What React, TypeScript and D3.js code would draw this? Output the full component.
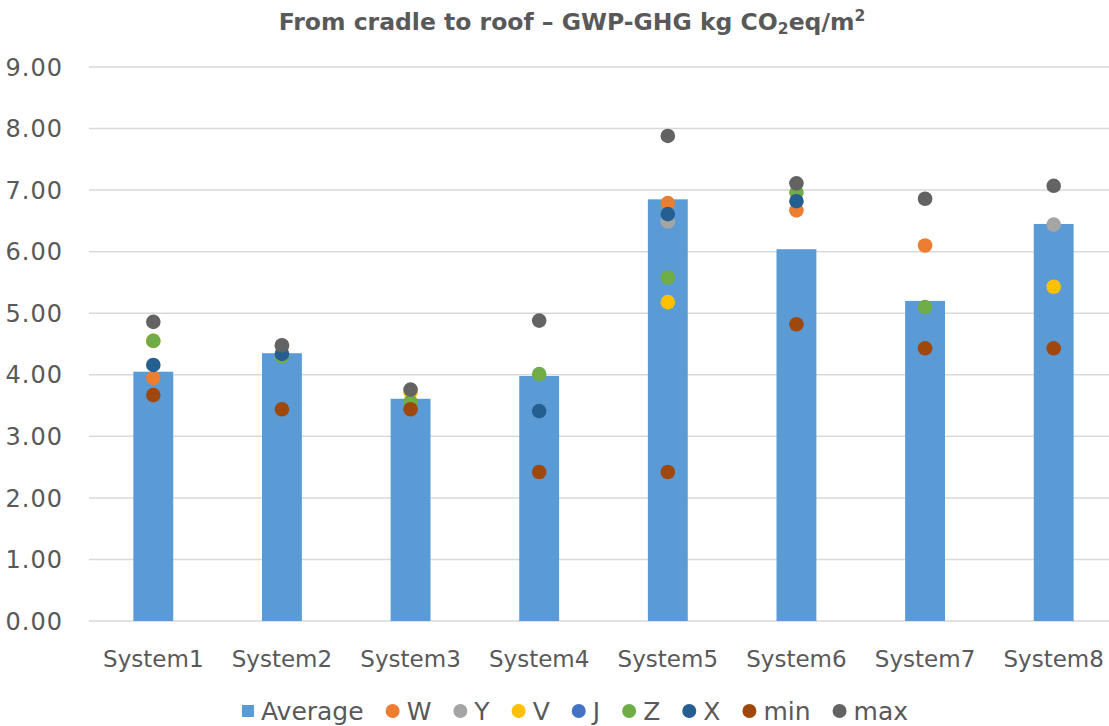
import { useEffect, useRef } from "react";
import * as d3 from "d3";

// categories and series
const systems = ["System1", "System2", "System3", "System4", "System5", "System6", "System7", "System8"];
const average = [4.05, 4.35, 3.61, 3.98, 6.85, 6.04, 5.2, 6.45];
const seriesW = [3.95, 4.47, null, null, 6.79, 6.67, 6.1, null];
const seriesY = [null, null, null, null, 6.49, null, null, 6.44];
const seriesV = [4.55, null, 3.72, null, 5.18, null, null, 5.43];
const seriesJ = [null, null, null, null, null, null, null, null];
const seriesZ = [4.55, 4.3, 3.56, 4.01, 5.58, 6.96, 5.1, null];
const seriesX = [4.16, 4.34, null, 3.41, 6.61, 6.82, null, null];
const seriesMin = [3.67, 3.44, 3.44, 2.42, 2.42, 4.82, 4.43, 4.43];
const seriesMax = [4.86, 4.48, 3.76, 4.88, 7.88, 7.11, 6.86, 7.07];
const yTicks = [0, 1, 2, 3, 4, 5, 6, 7, 8, 9];

const dotSeries = [
  { name: "W", values: seriesW, color: "#ED7D31" },
  { name: "Y", values: seriesY, color: "#A5A5A5" },
  { name: "V", values: seriesV, color: "#FFC000" },
  { name: "J", values: seriesJ, color: "#4472C4" },
  { name: "Z", values: seriesZ, color: "#70AD47" },
  { name: "X", values: seriesX, color: "#255E91" },
  { name: "min", values: seriesMin, color: "#9E480E" },
  { name: "max", values: seriesMax, color: "#636363" },
];

const W = 1109;
const H = 726;
const FONT = "'DejaVu Sans', sans-serif";
const TEXT = "#595959";

export default function App() {
  const ref = useRef<SVGSVGElement>(null);

  useEffect(() => {
    if (!ref.current) return;
    const svg = d3.select(ref.current);
    svg.selectAll("*").remove();

    const x = d3.scaleBand<string>()
      .domain(systems)
      .range([89, 1118])
      .paddingInner(0.69)
      .paddingOuter(0.345);
    const y = d3.scaleLinear().domain([0, 9]).range([621, 67]);

    // title
    const title = svg.append("text")
      .attr("x", 572)
      .attr("y", 30)
      .attr("text-anchor", "middle")
      .attr("font-family", FONT)
      .attr("font-weight", "bold")
      .attr("font-size", 23.5)
      .attr("fill", TEXT);
    title.append("tspan").text("From cradle to roof – GWP-GHG kg CO");
    title.append("tspan").attr("font-size", 15.5).attr("dy", 4).text("2");
    title.append("tspan").attr("dy", -4).text("eq/m");
    title.append("tspan").attr("font-size", 15.5).attr("dy", -9).text("2");

    // grid
    svg.append("g")
      .selectAll("line")
      .data(yTicks)
      .join("line")
      .attr("x1", 89)
      .attr("x2", W)
      .attr("y1", (d) => y(d))
      .attr("y2", (d) => y(d))
      .attr("stroke", "#D9D9D9")
      .attr("stroke-width", 1.5);

    svg.append("g")
      .selectAll("text")
      .data(yTicks)
      .join("text")
      .attr("x", 63)
      .attr("y", (d) => y(d))
      .attr("dy", "0.36em")
      .attr("text-anchor", "end")
      .attr("font-family", FONT)
      .attr("font-size", 24)
      .attr("letter-spacing", 1)
      .attr("fill", TEXT)
      .text((d) => d3.format(".2f")(d));

    // bars
    svg.append("g")
      .selectAll("rect")
      .data(average)
      .join("rect")
      .attr("x", (_, i) => x(systems[i])!)
      .attr("y", (d) => y(d))
      .attr("width", x.bandwidth())
      .attr("height", (d) => y(0) - y(d))
      .attr("fill", "#5B9BD5");

    // category labels
    svg.append("g")
      .selectAll("text")
      .data(systems)
      .join("text")
      .attr("x", (d) => x(d)! + x.bandwidth() / 2)
      .attr("y", 667)
      .attr("text-anchor", "middle")
      .attr("font-family", FONT)
      .attr("font-size", 23)
      .attr("fill", TEXT)
      .text((d) => d);

    // dots
    dotSeries.forEach((s) => {
      svg.append("g")
        .selectAll("circle")
        .data(s.values.map((v, i) => ({ v, cat: systems[i] })).filter((d) => d.v != null))
        .join("circle")
        .attr("cx", (d) => x(d.cat)! + x.bandwidth() / 2)
        .attr("cy", (d) => y(d.v as number))
        .attr("r", 7.3)
        .attr("fill", s.color);
    });

    // legend
    const legend = svg.append("g").attr("font-family", FONT).attr("font-size", 25).attr("fill", TEXT);
    const items = [{ name: "Average", color: "#5B9BD5", square: true }, ...dotSeries.map((s) => ({ name: s.name, color: s.color, square: false }))];
    let cx = 0;
    const ly = 711;
    const gap = 22;
    items.forEach((it) => {
      const g = legend.append("g");
      if (it.square) {
        g.append("rect").attr("x", cx).attr("y", ly - 6).attr("width", 12).attr("height", 12).attr("fill", it.color);
        cx += 12 + 7;
      } else {
        g.append("circle").attr("cx", cx + 7).attr("cy", ly).attr("r", 7).attr("fill", it.color);
        cx += 14 + 7;
      }
      const t = g.append("text").attr("x", cx).attr("y", ly).attr("dy", "0.36em").text(it.name);
      cx += (t.node() as SVGTextElement).getComputedTextLength() + gap;
    });
    const total = cx - gap;
    legend.attr("transform", `translate(${575 - total / 2},0)`);
  }, []);

  return (
    <svg
      ref={ref}
      width={W}
      height={H}
      style={{ position: "absolute", left: 0, top: 0, background: "#fff" }}
    />
  );
}
